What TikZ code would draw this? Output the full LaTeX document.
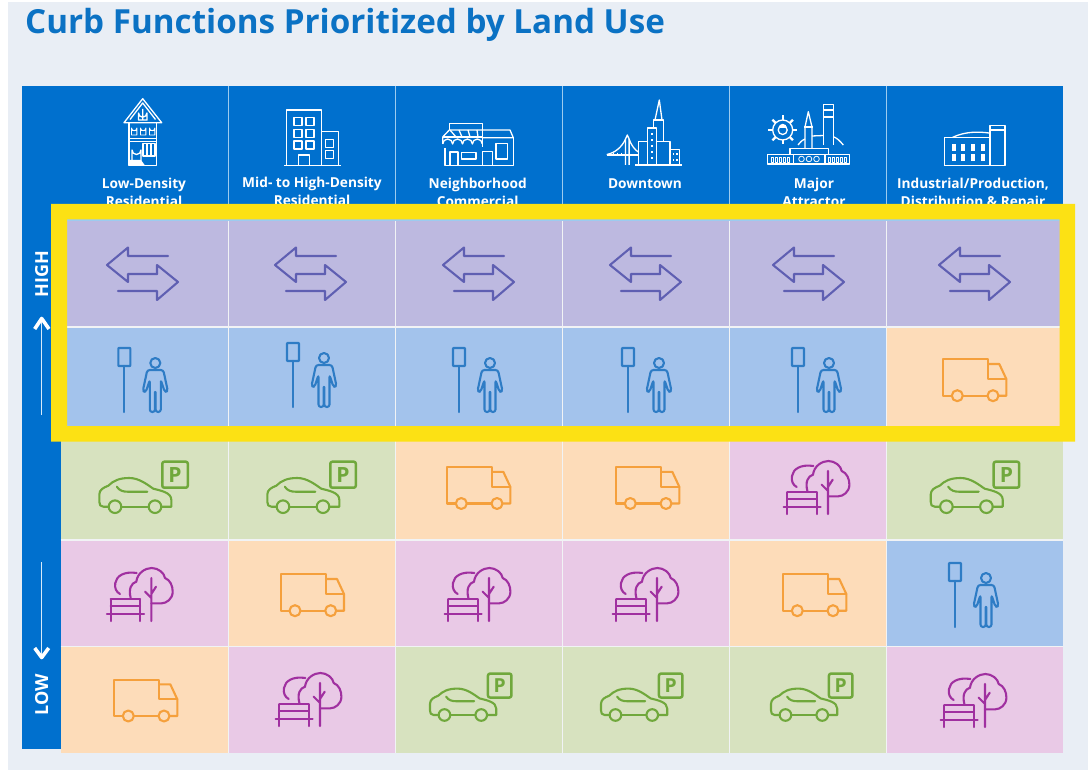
\documentclass[tikz,border=0pt]{standalone}
\usepackage{fontspec}
\setmainfont{Open Sans}
\definecolor{pagebg}{HTML}{E9EEF5}
\definecolor{hdr}{HTML}{0070CE}
\definecolor{hline}{HTML}{9CCBEF}
\definecolor{lav}{HTML}{BDB9E0}
\definecolor{sky}{HTML}{A3C3EC}
\definecolor{org}{HTML}{FDDCB9}
\definecolor{grn}{HTML}{D7E2BF}
\definecolor{pnk}{HTML}{E9C9E6}
\definecolor{gap}{HTML}{F1F3F5}
\definecolor{arrowc}{HTML}{5F5FB2}
\definecolor{stopc}{HTML}{2E7CC5}
\definecolor{truckc}{HTML}{F5A03C}
\definecolor{carc}{HTML}{70A83C}
\definecolor{parkc}{HTML}{A030A0}
\definecolor{frame}{HTML}{FCE114}
\definecolor{titlec}{HTML}{0B72C4}
\tikzset{
  icon/.style={line width=2.1pt,line join=round,line cap=round},
  wline/.style={draw=white,line width=1.3pt,line join=round},
  hlabel/.style={text=white,font=\fontsize{13.7}{13.7}\selectfont\bfseries,anchor=base},
  sidelabel/.style={text=white,font=\fontsize{18}{18}\selectfont\bfseries,rotate=90},
  swaparrows/.pic={
    \draw[icon,arrowc] (26,-18) -- (-14,-18) -- (-14,-26.5) -- (-35,-9) -- (-14,8) -- (-14,0) -- (15,0);
    \draw[icon,arrowc] (15,0) -- (15,-9) -- (36,8) -- (15,26) -- (15,17) -- (-24,17);
  },
  stopperson/.pic={
    \draw[icon,stopc,rounded corners=.5pt] (-6,-64) rectangle (6,-46);
    \draw[icon,stopc] (0,-46) -- (0,0);
    \begin{scope}[xshift=31pt]
      \draw[icon,stopc] (0,-49) circle[radius=5];
      \draw[icon,stopc,rounded corners=2.5pt] (0,-42) -- (-8,-42) -- (-12.5,-21) -- (-9.5,-20) -- (-5.5,-32) -- (-5.5,0) -- (-.3,0) -- (-.3,-20);
      \draw[icon,stopc,rounded corners=2.5pt] (0,-42) -- (8,-42) -- (12.5,-21) -- (9.5,-20) -- (5.5,-32) -- (5.5,0) -- (.3,0) -- (.3,-20);
    \end{scope}
  },
  truck/.pic={
    \draw[icon,truckc] (8.8,0) -- (0,0) -- (0,-36.4) -- (45.3,-36.4) -- (45.3,-16.7) -- (63.3,-16.7);
    \draw[icon,truckc] (45.3,-31.7) -- (56.3,-31.7) -- (63.3,-16.7) -- (63.3,0) -- (55.5,0);
    \draw[icon,truckc] (19.8,0) -- (44.5,0);
    \draw[icon,truckc] (14.3,0) circle[radius=5.5] (50,0) circle[radius=5.5];
  },
  car/.pic={
    \draw[icon,carc] (9.4,0) -- (4,0) .. controls (1,0) and (0,-2) .. (0,-5) -- (0,-12) .. controls (0,-17) and (4,-19) .. (9,-21) .. controls (14,-26) and (20,-28.7) .. (30,-28.7) .. controls (40,-28.7) and (48,-22) .. (54,-18) .. controls (62,-16) and (72,-14) .. (72,-7) -- (72,0) -- (62,0);
    \draw[icon,carc] (22,0) -- (49.4,0);
    \draw[icon,carc] (15.7,0) circle[radius=6.3] (55.7,0) circle[radius=6.3];
    \draw[icon,carc] (17.5,-20) .. controls (20,-16) and (24,-15) .. (28,-15) -- (48,-15);
    \draw[icon,carc,line width=2.5pt,rounded corners=2pt] (63,-45) rectangle (88.5,-19);
    \node[text=carc,font=\fontsize{21}{21}\selectfont\bfseries,transform shape,inner sep=0pt] (plabel) at (75.7,-32) {P};
  },
  park/.pic={
    \draw[icon,parkc] (-44.3,-7) -- (-7.3,-7);
    \draw[icon,parkc] (-40.6,-21.7) -- (-40.6,0) (-11.3,-21.7) -- (-11.3,0);
    \draw[icon,parkc] (-40.6,-21.7) -- (-11.3,-21.7) (-40.6,-15) -- (-11.3,-15);
    \draw[icon,parkc] (0,0) -- (0,-43) (-6.3,-29.3) -- (0,-23) (4.7,-34.3) -- (0,-27);
    \draw[icon,parkc] (-20.6,-23) .. controls (-23,-32) and (-20,-38) .. (-15,-39.3) .. controls (-14,-48) and (-6,-53) .. (0.4,-53) .. controls (7,-53) and (13,-48) .. (13.7,-43) .. controls (19,-41) and (21.4,-35) .. (21.4,-29.3) .. controls (21.4,-22) and (15,-17.7) .. (10.4,-17.7) -- (0,-17.7);
    \draw[icon,parkc] (-31.3,-27) .. controls (-35,-29) and (-37,-33) .. (-36,-38) .. controls (-35,-45) and (-27,-50) .. (-14.6,-48);
  },
}
\begin{document}
\begin{tikzpicture}[x=1pt,y=-1pt]
\useasboundingbox (0,0) rectangle (1088,770);
\fill[white] (0,0) rectangle (1088,770);
\fill[pagebg] (8,2) rectangle (1088,770);
\node[text=titlec,anchor=base west,inner sep=0pt,font=\fontsize{33.2}{33.2}\selectfont\bfseries] (title) at (25,34) {Curb Functions Prioritized by Land Use};
% header band and side band
\fill[hdr] (22,86) rectangle (1063,221);
\fill[hdr] (22,86) rectangle (60.5,749);
% cells
\foreach \ya/\yb/\ca/\cb/\cc/\cd/\ce/\cf in {
  220/327/lav/lav/lav/lav/lav/lav,
  327/434/sky/sky/sky/sky/sky/org,
  434/540/grn/grn/org/org/pnk/grn,
  540/646.5/pnk/org/pnk/pnk/org/sky,
  646.5/753/org/pnk/grn/grn/grn/pnk}{
  \foreach \xa/\xb/\col in {60.5/228.5/\ca,228.5/395.5/\cb,395.5/562.5/\cc,562.5/729.5/\cd,729.5/886.5/\ce,886.5/1062.5/\cf}{
    \fill[fill=\col] (\xa,\ya) rectangle (\xb,\yb);
  }
}
\foreach \yy in {327,434,540,646.5} \draw[gap,line width=1.8pt] (60.5,\yy) -- (1062.5,\yy);
\foreach \xx in {228.5,395.5,562.5,729.5,886.5} {
  \draw[gap,line width=1.8pt] (\xx,220) -- (\xx,753);
  \draw[hline,line width=1.5pt] (\xx,86) -- (\xx,220);
}
\draw[hline,line width=1.2pt] (60.5,220) -- (1062.5,220);
% side arrows and labels
\node[sidelabel] (high) at (41.7,274) {HIGH};
\node[sidelabel] (low) at (41.7,695) {LOW};
\coordinate (upA) at (41.7,415);
\coordinate (upB) at (41.7,320);
\coordinate (dnA) at (41.7,562);
\coordinate (dnB) at (41.7,656);
\draw[hline!40!white,line width=1.5pt] (upA) -- (upB);
\draw[hline!40!white,line width=1.5pt] (dnA) -- (dnB);
\draw[white,line width=3.6pt,line join=round] (34.7,329) -- (41.7,318.5) -- (49,329);
\draw[white,line width=3.6pt,line join=round] (34.7,648) -- (41.7,657.5) -- (48.7,648);
% header labels
\node[hlabel] (h1a) at (144,189) {Low-Density};
\node[hlabel] (h1b) at (144,207) {Residential};
\node[hlabel] (h2a) at (312,188) {Mid- to High-Density};
\node[hlabel] (h2b) at (312,206) {Residential};
\node[hlabel] (h3a) at (477.7,189) {Neighborhood};
\node[hlabel] (h3b) at (477.7,207) {Commercial};
\node[hlabel] (h4a) at (645,189) {Downtown};
\node[hlabel] (h5a) at (814,189) {Major};
\node[hlabel] (h5b) at (814,207) {Attractor};
\node[hlabel] (h6a) at (973,189) {Industrial/Production,};
\node[hlabel] (h6b) at (973,207) {Distribution \& Repair};
% house
\draw[wline] (124,122.7) -- (142.7,98.7) -- (161.7,122.7) -- cycle;
\draw[wline] (130,119.5) -- (142.7,103) -- (155.5,119.5);
\draw[wline] (138.5,120) -- (138.5,113) arc[start angle=180,end angle=0,radius=4.2] -- (147,120) -- cycle (142.7,109) -- (142.7,120);
\draw[wline] (129,122.7) rectangle (156.7,165.3);
\draw[wline] (129,138.7) -- (156.7,138.7) (129,141.5) -- (156.7,141.5);
\foreach \xx in {131.5,140.5,149.5} \draw[wline,line width=.9pt] (\xx,135) -- (\xx,128) arc[start angle=180,end angle=0,radius=2.7] -- (\xx+5.4,135) -- cycle (\xx,130.5) -- (\xx+5.4,130.5);
\draw[wline] (132,165.3) -- (132,150) arc[start angle=180,end angle=0,radius=4.5] -- (141,165.3);
\fill[white] (130,165.5) -- (130,160) -- (141,160) -- (145,165.5) -- cycle;
\draw[wline] (143,143.7) rectangle (155,156) (147,143.7) -- (147,156) (151,143.7) -- (151,156);
% office
\draw[wline] (286.7,165.7) -- (286.7,110) -- (321.7,110) -- (321.7,165.7);
\draw[wline] (321.7,131.7) -- (338.3,131.7) -- (338.3,165.7);
\draw[wline] (284,165.7) -- (340.7,165.7);
\foreach \yy in {117.3,129.3,141} \foreach \xx in {294,306} \draw[wline] (\xx,\yy) rectangle (\xx+8,\yy+8);
\draw[wline] (298.3,165.7) -- (298.3,155) -- (309.3,155) -- (309.3,165.7);
\foreach \yy in {139.3,150.7} \draw[wline] (325.7,\yy) rectangle (333.7,\yy+8);
% store
\draw[wline] (449.3,130) -- (449.3,123.3) -- (482.3,123.3) -- (482.3,147);
\draw[wline] (449.3,130) -- (510,130) -- (513.3,137.7) -- (482.3,137.7);
\draw[wline] (449.3,130) -- (442.7,137) -- (442.7,144) (449.3,137) -- (442.7,137);
\draw[wline] (442.7,137) -- (482.3,137);
\foreach \xx/\tt in {450/456,459/462,468/470,477/478} \draw[wline] (\xx,130) -- (\tt,137);
\draw[wline] (442.7,144) arc[start angle=180,end angle=360,radius=4.95] arc[start angle=180,end angle=360,radius=4.95] arc[start angle=180,end angle=360,radius=4.95] arc[start angle=180,end angle=360,radius=4.95];
\draw[wline] (445,148) -- (445,165.7) -- (513.3,165.7) -- (513.3,137.7);
\draw[wline] (450,165.7) -- (450,152) -- (458,152) -- (458,165.7);
\draw[wline] (461.7,152.7) rectangle (476,159);
\draw[wline] (482.3,165.7) -- (482.3,151.7) -- (492.3,151.7) -- (492.3,165.7);
\draw[wline] (496,143.3) rectangle (507.3,159);
% downtown
\draw[wline] (635,165) -- (682.3,165);
\draw[wline] (606.7,155) -- (638,155);
\draw[wline] (625.5,165) -- (625.5,139) -- (627.3,135) -- (629.1,139) -- (629.1,165);
\draw[wline] (606.7,154.5) .. controls (615,153) and (622,147) .. (625.5,139);
\draw[wline] (629.1,139) .. controls (631,145) and (635,150) .. (638.3,152);
\foreach \xx in {613,617,621} \draw[wline,line width=.7pt] (\xx,153) -- (\xx,155);
\draw[wline] (638.3,165) -- (638.3,141.7) -- (647.3,141.7);
\draw[wline] (647.3,165) -- (647.3,128) -- (656.7,128) -- (656.7,165);
\draw[wline] (653.3,128) -- (653.3,120) -- (663.3,120) -- (663.3,141.7);
\draw[wline] (655,120) -- (659.3,100) -- (662,120);
\draw[wline] (656.7,141.7) -- (670,141.7) -- (670,165);
\draw[wline] (670,149.3) -- (679.3,149.3) -- (679.3,165);
\foreach \yy in {133,139,145,151,157} \fill[white] (650.5,\yy) rectangle (652.5,\yy+2.5);
\foreach \yy in {153,159} \foreach \xx in {672.5,676} \fill[white] (\xx,\yy) rectangle (\xx+1.8,\yy+2.5);
% attractor
\draw[wline] (782.7,130) circle[radius=10];
\draw[wline] (782.7,130) circle[radius=4.5];
\fill[white] (778.5,128) arc[start angle=180,end angle=360,radius=4.2] -- cycle;
\foreach \aa in {0,45,...,315} \draw[wline,line width=2.4pt] (782.7,130) ++(\aa:10) -- ++(\aa:4.5);
\draw[wline] (805,148.3) -- (805,127) -- (808.3,111.7) -- (812,127) -- (812,148.3);
\draw[wline] (804,127) -- (813,127);
\draw[wline] (823.3,145) -- (823.3,104.3) -- (833.3,104.3) -- (833.3,145);
\draw[wline] (823.3,110) -- (833.3,110) (823.3,117) -- (833.3,117);
\draw[wline] (798,145) .. controls (802,140) and (803,140) .. (805,139) (812,136) -- (823.3,135.5) (833.3,136.7) .. controls (837,138) and (840,141) .. (843.3,145);
\draw[wline] (790,154.3) -- (790,148.3) -- (828.3,148.3) -- (828.3,154.3);
\draw[wline] (767.3,154.3) rectangle (849.3,164);
\draw[wline] (793.3,154.3) -- (793.3,164) (825,154.3) -- (825,164);
\foreach \xx in {771,775,779,783,787,828,832,836,840,844} \draw[wline,line width=.8pt] (\xx,157) rectangle (\xx+2,162);
\foreach \xx in {799,806.5,814} \draw[wline,line width=.8pt] (\xx+2.5,159) circle[radius=2.8];
% factory
\draw[wline] (944.3,165.7) -- (944.3,137.3) -- (990,137.3);
\draw[wline] (944.3,165.7) -- (1005,165.7) -- (1005,125.7) -- (990,125.7) -- (990,165.7);
\draw[wline] (990,130) -- (1005,130);
\draw[wline] (952.7,137.3) .. controls (965,131.5) and (978,131.5) .. (989,133);
\foreach \xx in {951.7,961,971,980.7} \foreach \yy in {144.3,154.3} \fill[white] (\xx,\yy) rectangle (\xx+4,\yy+7);
% row icons
\foreach \xx in {142,310,478,645,808,974} \pic at (\xx,274) {swaparrows};
\foreach \xx/\yy in {124.3/412,293/407,459/412,628/412,798/412,955/627} \pic at (\xx,\yy) {stopperson};
\foreach \xx/\yy in {943/395.7,447/503.5,616/503.5,280.7/610.7,783/610.7,114/716} \pic at (\xx,\yy) {truck};
\foreach \xx in {99.3,267.3,930.7} \pic at (\xx,506.7) {car};
\foreach \xx in {430,601,771} \pic[scale=.92] at (\xx,715) {car};
\foreach \xx/\yy in {151.3/621,320/726,828/514,489/621,657/621,985/727} \pic at (\xx,\yy) {park};
% yellow highlight frame
\fill[frame,even odd rule] (51,204) rectangle (1075,441.5) (67,219.5) rectangle (1059.5,426);
\end{tikzpicture}
\end{document}
